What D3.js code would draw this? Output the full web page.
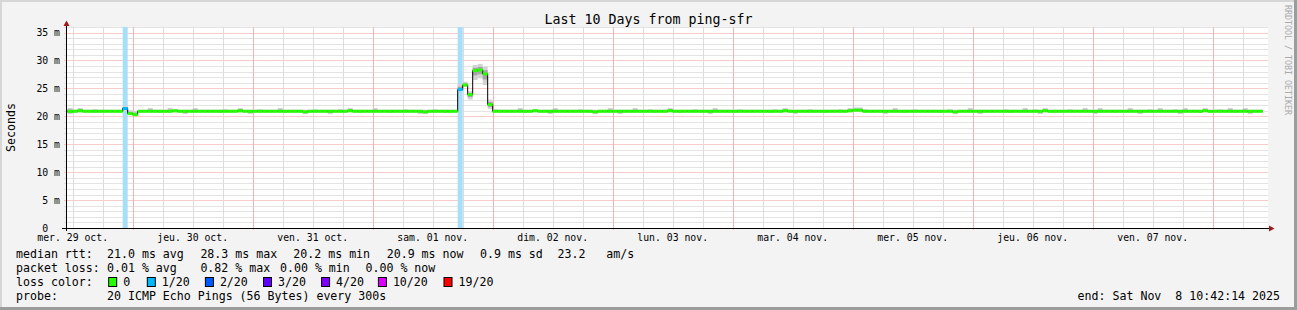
<!DOCTYPE html>
<meta charset="utf-8">
<script src="https://cdn.jsdelivr.net/npm/d3@7"></script>
<style>
body { margin: 0; background: #f3f3f3; }
svg text { font-family: "DejaVu Sans Mono", monospace; white-space: pre; }
</style>
<body>
<script>

// time range of the graph (UTC), first hourly point starts at 10:00
var startTime = Date.UTC(2025, 9, 29, 10, 42, 14),
    endTime   = Date.UTC(2025, 10, 8, 10, 42, 14),
    firstHour = Date.UTC(2025, 9, 29, 10, 0, 0),
    stepMs = 3600 * 1000;

// median rtt per hour (ms)
var median = [
  20.9,20.9,20.9,21.0,20.9,20.9,20.9,20.9,20.9,20.9,
  20.9,20.9,21.4,20.5,20.3,20.9,20.9,20.9,20.9,20.9,
  20.9,20.9,21.0,20.9,20.9,20.9,20.9,20.9,20.9,20.9,
  20.9,20.9,20.9,20.9,20.9,21.0,20.9,20.9,20.9,20.9,
  20.9,20.9,20.9,20.9,20.9,20.9,20.9,20.9,20.8,20.9,
  20.9,20.9,20.9,20.9,20.9,20.9,20.9,21.0,20.9,20.9,
  20.9,20.9,20.9,20.9,20.9,20.9,20.9,20.9,20.9,20.9,
  20.9,20.9,20.8,20.9,20.9,20.9,20.9,20.9,20.9,24.8,
  25.6,23.9,28.2,28.3,27.6,22.1,20.9,20.9,20.9,20.9,
  20.9,20.9,20.9,20.9,21.0,20.9,20.9,20.9,20.9,20.9,
  20.9,20.9,20.9,20.9,20.9,20.9,20.8,20.9,20.9,20.9,
  20.9,20.9,20.9,20.9,20.9,20.9,20.9,20.9,20.9,20.9,
  20.9,21.0,20.9,20.9,20.9,20.9,20.9,20.9,20.9,20.9,
  20.9,20.9,20.9,20.9,20.9,20.9,20.9,20.9,20.9,20.9,
  20.9,20.9,20.9,20.9,21.0,20.9,20.9,20.9,20.9,20.9,
  20.9,20.9,20.9,20.9,20.9,20.9,20.9,21.0,21.1,21.1,
  20.9,20.9,20.9,20.9,20.9,20.9,20.9,20.9,20.9,20.9,
  20.9,20.9,20.9,20.9,20.9,20.9,20.9,20.9,20.8,20.9,
  20.9,20.9,20.9,20.9,20.9,20.9,20.9,20.9,20.9,20.9,
  20.9,20.9,20.9,20.9,20.9,20.9,21.0,20.9,20.9,20.9,
  20.9,20.9,20.9,20.9,20.9,20.9,20.9,20.9,20.9,20.9,
  20.9,20.9,20.9,20.9,20.9,20.9,20.9,20.9,20.9,20.9,
  20.9,20.9,20.9,20.9,20.9,20.9,20.9,20.9,21.0,20.9,
  20.9,20.9,20.9,20.9,20.9,20.9,20.9,20.9,20.9,20.9
];

// smoke: highest and lowest ping of each hour (ms)
var smokeHi = [
  21.3,21.5,21.2,21.5,21.2,21.2,21.3,21.2,21.2,21.2,
  21.2,21.2,21.9,21.1,21.0,21.2,21.2,21.5,21.2,21.2,
  21.2,21.5,21.3,21.2,21.2,21.2,21.5,21.2,21.2,21.2,
  21.2,21.2,21.3,21.2,21.2,21.5,21.2,21.2,21.2,21.3,
  21.2,21.2,21.2,21.5,21.2,21.2,21.2,21.2,21.2,21.2,
  21.3,21.2,21.2,21.2,21.2,21.3,21.2,21.5,21.2,21.2,
  21.2,21.2,21.5,21.2,21.2,21.2,21.2,21.2,21.3,21.2,
  21.2,21.2,21.2,21.2,21.3,21.2,21.2,21.2,21.2,25.8,
  26.2,24.5,29.2,29.4,28.9,23.0,21.3,21.2,21.2,21.2,
  21.2,21.5,21.2,21.2,21.3,21.2,21.2,21.2,21.5,21.2,
  21.2,21.2,21.2,21.3,21.2,21.2,21.2,21.2,21.2,21.5,
  21.2,21.2,21.2,21.2,21.5,21.2,21.2,21.3,21.2,21.2,
  21.2,21.5,21.2,21.2,21.2,21.2,21.3,21.2,21.2,21.2,
  21.5,21.2,21.2,21.2,21.2,21.3,21.2,21.2,21.2,21.2,
  21.2,21.2,21.3,21.2,21.5,21.2,21.2,21.2,21.2,21.3,
  21.2,21.2,21.2,21.2,21.2,21.3,21.2,21.5,21.6,21.6,
  21.3,21.2,21.2,21.2,21.2,21.2,21.5,21.2,21.2,21.2,
  21.3,21.2,21.2,21.2,21.2,21.2,21.2,21.3,21.2,21.2,
  21.2,21.5,21.2,21.2,21.2,21.2,21.2,21.2,21.3,21.2,
  21.2,21.2,21.5,21.2,21.3,21.2,21.5,21.2,21.2,21.2,
  21.2,21.3,21.2,21.2,21.5,21.2,21.2,21.5,21.2,21.2,
  21.2,21.2,21.2,21.5,21.2,21.2,21.2,21.3,21.2,21.5,
  21.2,21.2,21.3,21.2,21.5,21.2,21.2,21.2,21.5,21.2,
  21.2,21.3,21.2,21.5,21.2,21.2,21.5,21.2,21.2,21.2
];
var smokeLo = [
  20.6,20.4,20.7,20.7,20.7,20.7,20.6,20.7,20.7,20.7,
  20.7,20.7,21.0,20.3,20.1,20.7,20.7,20.7,20.7,20.6,
  20.7,20.7,20.7,20.7,20.4,20.7,20.7,20.7,20.7,20.7,
  20.7,20.6,20.7,20.7,20.7,20.7,20.7,20.4,20.7,20.7,
  20.7,20.7,20.7,20.7,20.6,20.7,20.7,20.7,20.4,20.7,
  20.7,20.7,20.7,20.4,20.7,20.7,20.7,20.7,20.7,20.6,
  20.7,20.7,20.7,20.7,20.7,20.6,20.7,20.7,20.7,20.7,
  20.7,20.4,20.4,20.7,20.7,20.7,20.6,20.7,20.7,24.6,
  25.3,23.0,26.5,26.8,25.6,21.3,20.7,20.7,20.7,20.7,
  20.7,20.7,20.6,20.7,20.7,20.7,20.7,20.4,20.7,20.7,
  20.7,20.7,20.7,20.7,20.7,20.6,20.4,20.7,20.7,20.7,
  20.7,20.4,20.7,20.7,20.7,20.7,20.7,20.7,20.6,20.7,
  20.7,20.7,20.7,20.6,20.7,20.7,20.7,20.7,20.7,20.4,
  20.7,20.7,20.7,20.7,20.6,20.7,20.7,20.7,20.7,20.7,
  20.7,20.6,20.7,20.7,20.7,20.7,20.4,20.7,20.7,20.7,
  20.7,20.7,20.6,20.7,20.7,20.7,20.7,20.7,20.8,20.8,
  20.7,20.7,20.7,20.7,20.4,20.7,20.7,20.7,20.6,20.7,
  20.7,20.7,20.7,20.7,20.7,20.6,20.7,20.7,20.4,20.7,
  20.7,20.7,20.7,20.4,20.7,20.7,20.7,20.7,20.7,20.6,
  20.7,20.7,20.7,20.7,20.7,20.4,20.7,20.7,20.6,20.7,
  20.7,20.7,20.7,20.7,20.7,20.7,20.4,20.7,20.7,20.7,
  20.6,20.7,20.7,20.7,20.7,20.4,20.7,20.7,20.7,20.7,
  20.7,20.7,20.7,20.4,20.7,20.7,20.7,20.6,20.7,20.7,
  20.7,20.7,20.7,20.7,20.6,20.7,20.7,20.4,20.7,20.7
];

// hours with packet loss (index into median, lost pings out of 20)
var lossPoints = [{i: 12, loss: 1}, {i: 79, loss: 1}];

// loss legend
var lossLabels = ["0", "1/20", "2/20", "3/20", "4/20", "10/20", "19/20"];
var lossCounts = [0, 1, 2, 3, 4, 10, 19];
var lossColors = ["#26ff00", "#00b8ff", "#0059ff", "#5e00ff", "#7e00ff", "#dd00ff", "#ff0000"];

// axes
var dayLabels = ["mer. 29 oct.", "jeu. 30 oct.", "ven. 31 oct.", "sam. 01 nov.", "dim. 02 nov.",
                 "lun. 03 nov.", "mar. 04 nov.", "mer. 05 nov.", "jeu. 06 nov.", "ven. 07 nov."];
var yTicks = [0, 5, 10, 15, 20, 25, 30, 35];
var yTickLabels = ["0", "5 m", "10 m", "15 m", "20 m", "25 m", "30 m", "35 m"];

// legend texts
var rttStats = ["21.0 ms avg", "28.3 ms max", "20.2 ms min", "20.9 ms now", "0.9 ms sd", "23.2   am/s"];
var lossStats = ["0.01 % avg", "0.82 % max", "0.00 % min", "0.00 % now"];
var probeText = "20 ICMP Echo Pings (56 Bytes) every 300s";
var endText = "end: Sat Nov  8 10:42:14 2025";

var W = 1297, H = 310;
var plot = {left: 66.5, right: 1268, top: 27, bottom: 228};

var x = d3.scaleUtc().domain([new Date(startTime), new Date(endTime)]).range([66.2, 1266.2]);
var y = d3.scaleLinear().domain([0, 36]).range([228, 27]);

var svg = d3.select("body").append("svg")
    .attr("width", W)
    .attr("height", H);

// background and frame
svg.append("rect").attr("width", W).attr("height", H).attr("fill", "#f3f3f3");
svg.append("rect").attr("x", 0).attr("y", 0).attr("width", W).attr("height", 2).attr("fill", "#d6d6d6");
svg.append("rect").attr("x", 0).attr("y", 0).attr("width", 2).attr("height", H).attr("fill", "#d6d6d6");
svg.append("rect").attr("x", 0).attr("y", H - 3).attr("width", W).attr("height", 3).attr("fill", "#9c9c9c");
svg.append("rect").attr("x", W - 3).attr("y", 0).attr("width", 3).attr("height", H).attr("fill", "#9c9c9c");

// canvas
svg.append("rect")
    .attr("x", plot.left).attr("y", plot.top)
    .attr("width", plot.right - plot.left).attr("height", plot.bottom - plot.top)
    .attr("fill", "#ffffff");

svg.append("clipPath").attr("id", "clip")
  .append("rect")
    .attr("x", plot.left).attr("y", plot.top - 1)
    .attr("width", plot.right - plot.left).attr("height", plot.bottom - plot.top + 1);

// horizontal grid
var grid = svg.append("g");
d3.range(1, 37).forEach(function(v) {
  var yy = Math.round(y(v)) + 0.5;
  grid.append("line")
      .attr("x1", plot.left - 2).attr("x2", plot.right)
      .attr("y1", yy).attr("y2", yy)
      .attr("stroke", v % 5 == 0 ? "#f29494" : "#c8c8c8")
      .attr("stroke-width", 1)
      .attr("stroke-dasharray", "1,1");
});

// vertical grid, every 6 hours, red at midnight
var sixHours = d3.utcHour.every(6).range(new Date(startTime), new Date(endTime));
sixHours.forEach(function(d) {
  var xx = Math.round(x(d)) + 0.5;
  grid.append("rect")
      .attr("x", xx - 0.5).attr("y", plot.top)
      .attr("width", 1).attr("height", plot.bottom - plot.top + 2)
      .attr("fill", d.getUTCHours() == 0 ? "#f5b3b3" : "#dcdcdc");
});

var g = svg.append("g").attr("clip-path", "url(#clip)");

function hourStart(i) { return new Date(firstHour + i * stepMs); }
function hourEnd(i) { return new Date(firstHour + (i + 1) * stepMs); }

// loss background bars
g.selectAll(".lossbar")
  .data(lossPoints)
  .enter().append("rect")
    .attr("class", "lossbar")
    .attr("x", function(d) { return x(hourStart(d.i)); })
    .attr("width", function(d) { return x(hourEnd(d.i)) - x(hourStart(d.i)); })
    .attr("y", plot.top)
    .attr("height", plot.bottom - plot.top)
    .attr("fill", "#a6dff7");

// smoke
var idx = d3.range(median.length);
g.selectAll(".smoke")
  .data(idx)
  .enter().append("rect")
    .attr("class", "smoke")
    .attr("x", function(i) { return x(hourStart(i)); })
    .attr("width", function(i) { return x(hourEnd(i)) - x(hourStart(i)); })
    .attr("y", function(i) { return y(smokeHi[i]); })
    .attr("height", function(i) { return y(smokeLo[i]) - y(smokeHi[i]); })
    .attr("fill", "#d2d2d2");
g.selectAll(".smoke2")
  .data(idx)
  .enter().append("rect")
    .attr("class", "smoke2")
    .attr("x", function(i) { return x(hourStart(i)); })
    .attr("width", function(i) { return x(hourEnd(i)) - x(hourStart(i)); })
    .attr("y", function(i) { return y((smokeHi[i] + median[i]) / 2); })
    .attr("height", function(i) { return y((smokeLo[i] + median[i]) / 2) - y((smokeHi[i] + median[i]) / 2); })
    .attr("fill", "#a4a4a4");

// black step line of the median
var steps = idx.map(function(i) { return [x(hourStart(i)), y(median[i])]; });
steps.push([x(hourEnd(median.length - 1)), y(median[median.length - 1])]);
g.append("path")
    .attr("d", d3.line().curve(d3.curveStepAfter)(steps))
    .attr("fill", "none")
    .attr("stroke", "#000")
    .attr("stroke-width", 1);

// median coloured by loss
var lossAt = {};
lossPoints.forEach(function(d) { lossAt[d.i] = d.loss; });
g.selectAll(".med")
  .data(idx)
  .enter().append("rect")
    .attr("class", "med")
    .attr("x", function(i) { return x(hourStart(i)); })
    .attr("width", function(i) { return x(hourEnd(i)) - x(hourStart(i)); })
    .attr("y", function(i) { return y(median[i]) - 1.5; })
    .attr("height", 3)
    .attr("fill", function(i) {
      var l = lossAt[i] || 0;
      return lossColors[lossCounts.indexOf(l)];
    });

// axes
svg.append("line")
    .attr("x1", 62).attr("x2", 1270).attr("y1", 228.5).attr("y2", 228.5)
    .attr("stroke", "#000").attr("shape-rendering", "crispEdges");
svg.append("line")
    .attr("x1", 66.5).attr("x2", 66.5).attr("y1", 231).attr("y2", 24)
    .attr("stroke", "#000").attr("shape-rendering", "crispEdges");
svg.append("path").attr("d", "M63.5,26L69.5,26L66.5,20.5Z").attr("fill", "#a11a1a");
svg.append("path").attr("d", "M1269,225.5L1269,231.5L1274.5,228.5Z").attr("fill", "#a11a1a");

// y tick labels
var axisCharW = 9.8 * 0.602;
svg.selectAll(".ylab")
  .data(yTicks)
  .enter().append("text")
    .attr("class", "ylab")
    .attr("x", function(d, i) { return 60 - (yTickLabels[i].indexOf("m") < 0 ? 2 * axisCharW : 0); })
    .attr("y", function(d) { return y(d) + 3.6; })
    .attr("text-anchor", "end")
    .attr("font-size", "9.8px")
    .attr("fill", "#000")
    .text(function(d, i) { return yTickLabels[i]; });

// x tick labels, at noon
svg.selectAll(".xlab")
  .data(dayLabels)
  .enter().append("text")
    .attr("class", "xlab")
    .attr("x", function(d, i) { return x(new Date(Date.UTC(2025, 9, 29 + i, 12))); })
    .attr("y", 240.5)
    .attr("text-anchor", "middle")
    .attr("font-size", "9.8px")
    .text(String);

// title, unit, watermark
svg.append("text")
    .attr("x", 648.5).attr("y", 23.5)
    .attr("text-anchor", "middle")
    .attr("font-size", "13.3px")
    .text("Last 10 Days from ping-sfr");
svg.append("text")
    .attr("transform", "translate(14.5,127.5) rotate(-90)")
    .attr("text-anchor", "middle")
    .attr("font-size", "11.6px")
    .text("Seconds");
svg.append("text")
    .attr("transform", "translate(1284.5,5) rotate(90)")
    .attr("text-anchor", "start")
    .attr("font-size", "8.3px")
    .attr("fill", "#aaaaaa")
    .text("RRDTOOL / TOBI OETIKER");

// legend
var leg = svg.append("g").attr("font-size", "11.6px").attr("fill", "#000");
function legText(xx, yy, s) {
  leg.append("text").attr("x", xx).attr("y", yy).text(s);
}
legText(16, 257.5, "median rtt:");
[107, 200.4, 293.3, 386.7, 480, 557.5].forEach(function(xx, i) { legText(xx, 257.5, rttStats[i]); });
legText(16, 271.5, "packet loss:");
[107, 200.4, 280, 365.5].forEach(function(xx, i) { legText(xx, 271.5, lossStats[i]); });
legText(16, 285.5, "loss color:");
[108.2, 146.8, 204.9, 263, 321.1, 377.9, 443.5].forEach(function(xx, i) {
  leg.append("rect")
      .attr("x", xx + 0.5).attr("y", 277.5)
      .attr("width", 8).attr("height", 9)
      .attr("fill", lossColors[i])
      .attr("stroke", "#000");
  legText(xx + 15, 285.5, lossLabels[i]);
});
legText(16, 299.5, "probe:");
legText(107, 299.5, probeText);
leg.append("text").attr("x", 1280).attr("y", 299.5).attr("text-anchor", "end").text(endText);

</script>
</body>
</html>
